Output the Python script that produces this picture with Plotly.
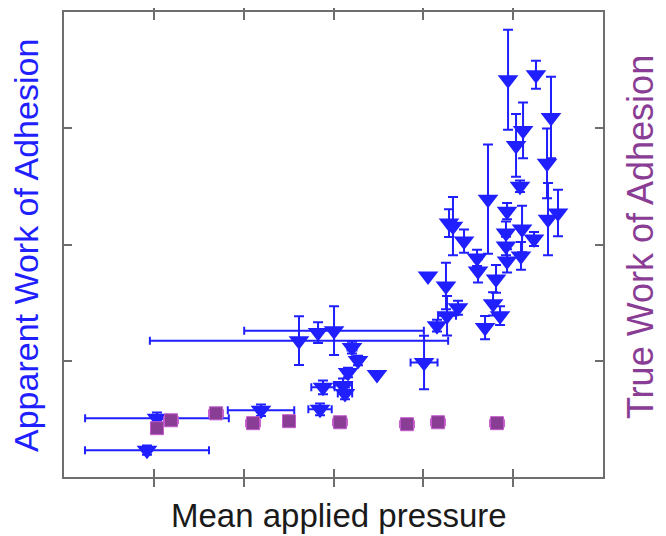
import plotly.graph_objects as go

# Apparent work of adhesion (blue triangles)
app_x = [0.924, 1.035, 2.193, 2.616, 2.828, 3.006, 3.206, 3.273, 3.162, 3.484,
         2.883, 3.106, 3.128, 2.850, 4.008, 4.052, 4.152, 4.264, 4.252, 4.386,
         4.286, 4.330, 4.453, 4.598, 4.609, 4.720, 4.932, 4.920, 4.920, 4.932,
         4.809, 4.776, 4.854, 4.687, 5.076, 5.099, 5.087, 5.232, 5.388, 5.499,
         4.943, 5.254, 5.421, 5.110, 5.032, 5.377]
app_y = [0.231, 0.505, 0.574, 1.173, 1.242, 1.259, 1.113, 1.002, 0.899, 0.882,
         0.771, 0.788, 0.719, 0.582, 0.985, 1.730, 1.302, 1.388, 1.644, 1.456,
         2.184, 2.158, 2.030, 1.884, 1.773, 2.390, 2.287, 2.098, 1.987, 1.859,
         1.704, 1.490, 1.388, 1.285, 2.501, 2.133, 1.902, 2.047, 2.218, 2.270,
         3.418, 3.460, 3.092, 2.981, 2.852, 2.698]
app_xerr = [0.69, 0.80, 0.37, 1.66, 0.0, 1.00, 0.05, 0.0, 0.0, 0.0,
            0.13, 0.10, 0.08, 0.13, 0.15, 0.0, 0.0, 0.10, 0.0, 0.0,
            0.0, 0.0, 0.0, 0.0, 0.0, 0.0, 0.0, 0.0, 0.0, 0.0,
            0.0, 0.0, 0.0, 0.0, 0.0, 0.0, 0.0, 0.0, 0.0, 0.0,
            0.0, 0.0, 0.0, 0.0, 0.0, 0.0]
app_yerr = [0.04, 0.05, 0.05, 0.21, 0.09, 0.21, 0.05, 0.04, 0.04, 0.0,
            0.06, 0.06, 0.05, 0.05, 0.23, 0.0, 0.05, 0.17, 0.20, 0.06,
            0.12, 0.25, 0.10, 0.07, 0.10, 0.47, 0.07, 0.10, 0.08, 0.10,
            0.12, 0.10, 0.08, 0.10, 0.05, 0.20, 0.12, 0.06, 0.31, 0.20,
            0.43, 0.12, 0.35, 0.24, 0.27, 0.30]

# True work of adhesion (purple squares)
true_x = [1.035, 1.191, 1.692, 2.104, 2.505, 3.072, 3.818, 4.163, 4.820]
true_y = [0.420, 0.488, 0.548, 0.463, 0.480, 0.471, 0.454, 0.471, 0.463]
true_xerr = [0.0, 0.08, 0.08, 0.08, 0.0, 0.08, 0.08, 0.08, 0.08]

x_ticks = [1, 2, 3, 4, 5]
y_ticks = [1, 2, 3]

BLUE = "#1f1fff"
PURPLE = "#8a3d94"
FONT = "Liberation Sans, Arial, sans-serif"

# the page body adds an 8 px offset; figure is sized to fit the window
W, H = 658, 528
ML, MR, MT, MB = 56, 63, 2, 59
OFF = 8

fig = go.Figure()
fig.add_trace(go.Scatter(
    x=app_x, y=app_y, mode="markers",
    marker=dict(symbol="triangle-down", size=18, color=BLUE, line=dict(width=0)),
    error_x=dict(type="data", array=app_xerr, color=BLUE, thickness=2, width=4),
    error_y=dict(type="data", array=app_yerr, color=BLUE, thickness=2, width=5),
    showlegend=False,
))
fig.add_trace(go.Scatter(
    x=true_x, y=true_y, mode="markers", yaxis="y2",
    marker=dict(symbol="square", size=13, color=PURPLE,
                line=dict(width=1, color="#c45acd")),
    error_x=dict(type="data", array=true_xerr, color="#c45acd", thickness=1.5, width=4),
    showlegend=False,
))

axis_common = dict(showgrid=False, zeroline=False, showline=True, linecolor="#6e6e6e",
                   linewidth=1.5, ticks="inside", ticklen=8, tickcolor="#6e6e6e",
                   tickwidth=1.5, showticklabels=False)

pw = W - ML - MR
ph = H - MT - MB


def ann(text, px, py, size, color, angle=0):
    fx, fy = px - OFF, py - OFF
    return dict(text=text, x=(fx - ML) / pw, y=(H - MB - fy) / ph, xref="paper", yref="paper",
                xanchor="center", yanchor="middle", showarrow=False, textangle=angle,
                font=dict(size=size, color=color, family=FONT))


fig.update_layout(
    width=W, height=H,
    margin=dict(l=ML, r=MR, t=MT, b=MB),
    paper_bgcolor="white", plot_bgcolor="white",
    font=dict(family=FONT),
    xaxis=dict(range=[0, 6], tickvals=x_ticks, mirror="allticks", **axis_common),
    yaxis=dict(range=[0, 4], tickvals=y_ticks, mirror="allticks", **axis_common),
    yaxis2=dict(range=[0, 4], overlaying="y", side="right", showgrid=False,
                zeroline=False, showticklabels=False, ticks=""),
    annotations=[
        ann("Apparent Work of Adhesion", 26, 245, 34, BLUE, -90),
        ann("True Work of Adhesion", 640, 236, 36, PURPLE, -90),
        ann("Mean applied pressure", 339, 516, 33, "#1a1a1a"),
    ],
)

fig.write_html("out.html")
